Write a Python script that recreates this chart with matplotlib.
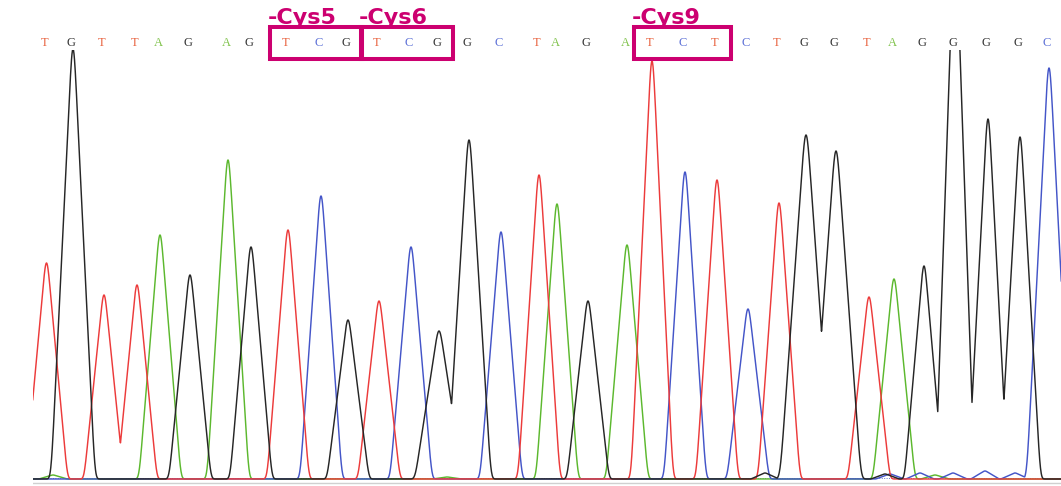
import matplotlib
matplotlib.use("Agg")

import matplotlib.pyplot as plt
from matplotlib.patches import Rectangle
import numpy as np

# base calls and their peaks (scan position, signal height, half-base width)
bases = list("TGTTAGAGTCGTCGGCTAGATCTCTGGTAGGGGC")
peak_pos = [46.5, 73, 104, 137, 160, 190, 228, 251, 288, 321,
            348, 379, 411, 439, 469, 501, 539, 557, 588, 627,
            652, 685, 717, 748, 779, 806, 836, 869, 894, 924,
            955, 988, 1020, 1049]
peak_height = [216, 430, 184, 194, 244, 204, 319, 232, 249, 283,
               159, 178, 232, 148, 339, 247, 304, 275, 178, 234,
               418, 307, 299, 170, 276, 344, 328, 182, 200, 213,
               540, 360, 342, 411]
peak_width = [21, 22, 20, 20, 21, 21, 21, 21, 21, 21,
              21, 21, 21, 24, 22, 21, 21, 21, 21, 21,
              21, 21, 21, 21, 21, 26, 25, 21, 21, 19.5,
              19.5, 20, 20.5, 22.4]

# small background signal
minor_base = ["A", "A", "G", "G", "C", "C", "A", "C", "C", "C"]
minor_pos = [53, 447, 765, 885, 890, 920, 935, 953, 985, 1015]
minor_height = [4, 2, 6, 5, 5, 6, 4, 6, 8, 6]

# annotated codons: (first base index, last base index, label)
codons = [(8, 10, "-Cys5"), (11, 13, "-Cys6"), (20, 22, "-Cys9")]

trace_colors = {"A": "#5cb82e", "C": "#4455c8", "G": "#262626", "T": "#ec3b3b"}
letter_colors = {"A": "#7fc24a", "C": "#5b6fd6", "G": "#333333", "T": "#e8603c"}
box_color = "#cc0070"

fig = plt.figure(figsize=(10.61, 4.86), dpi=100)
ax = fig.add_axes([33 / 1061, 1 / 486, 1028 / 1061, 435 / 486])
ax.set_xlim(33, 1061)
ax.set_ylim(-6, 429)
ax.axis("off")

# peak profile: a triangle with softened tip and foot, unit height
u_tab = np.linspace(-3, 3, 2401)
du = u_tab[1] - u_tab[0]
k = np.exp(-0.5 * (np.arange(-120, 121) * du / 0.075) ** 2)
s_tab = np.convolve(np.clip(1 - np.abs(u_tab), 0, None), k / k.sum(), mode="same")
s_tab /= s_tab.max()

x = np.arange(0, 1100, 0.25)


def trace(b):
    y = np.zeros_like(x)
    for base, p, h, w in zip(bases, peak_pos, peak_height, peak_width):
        if base == b:
            y = np.maximum(y, h * np.interp((x - p) / w, u_tab, s_tab))
    for base, p, h in zip(minor_base, minor_pos, minor_height):
        if base == b:
            y = np.maximum(y, h * np.interp((x - p) / 14, u_tab, s_tab))
    return y


ax.axhline(-3.5, color="#d0d0d0", lw=1.0, zorder=1)
ax.axhline(1.5, color="#6677cc", lw=0.7, ls=(0, (1, 1.5)), zorder=1)

for b in ["A", "C", "T", "G"]:
    ax.plot(x, trace(b), color=trace_colors[b], lw=1.05, zorder=2)

for base, p in zip(bases, peak_pos):
    ax.text(p - 2, 436, base, color=letter_colors[base], ha="center", va="center",
            fontsize=9, family="Liberation Serif", clip_on=False)

for first, last, label in codons:
    left = peak_pos[first] - 18
    right = peak_pos[last] + 14
    ax.add_patch(Rectangle((left, 420), right - left, 32, fill=False,
                           edgecolor=box_color, lw=2.9, clip_on=False, zorder=3))
    ax.text(left - 2, 454.5, label, color=box_color, fontsize=16, fontweight="bold",
            ha="left", va="baseline", clip_on=False)

fig.savefig("out.png", dpi=100, facecolor="white")
